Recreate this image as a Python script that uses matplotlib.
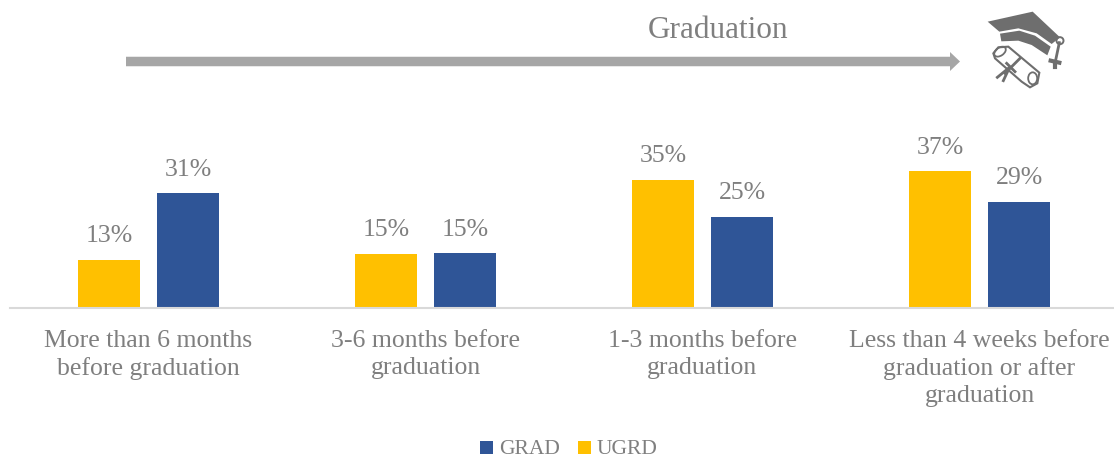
"""Grouped bars of when students started looking, with the graduation arrow on top."""
import matplotlib

matplotlib.use("Agg")
import matplotlib.pyplot as plt
import numpy as np
from matplotlib.patches import Circle, Ellipse, FancyArrow, Polygon, Rectangle

plt.rcParams["font.family"] = ["Liberation Serif", "DejaVu Serif"]

categories = [
    "More than 6 months\nbefore graduation",
    "3-6 months before\ngraduation",
    "1-3 months before\ngraduation",
    "Less than 4 weeks before\ngraduation or after\ngraduation",
]
# bar heights as measured, the printed labels are these rounded
ugrd = [13, 14.6, 34.7, 37]
grad = [31, 14.8, 24.7, 28.7]

W, H = 1114, 457
GREY = "#7f7f7f"
YELLOW = "#ffc000"
BLUE = "#2f5597"
FS = 18.5


def draw_icon(ov):
    # points: (zx, zy) -> (940 + zx / 3, zy / 3)
    def pts(seq):
        return [(940 + x / 3, y / 3) for x, y in seq]

    dark = "#6e6e6e"
    ov.add_patch(Polygon(pts([(143, 65), (278, 35), (360, 112), (335, 132), (290, 100),
                              (235, 85), (178, 95)]), fc=dark, ec="none"))
    ov.add_patch(Polygon(pts([(180, 101), (238, 92), (285, 107), (332, 140), (322, 166),
                              (275, 135), (235, 122), (184, 124)]), fc=dark, ec="none"))
    # tassel
    ov.plot(*zip(*pts([(358, 128), (345, 190)])), color=dark, lw=2)
    ov.plot(*zip(*pts([(332, 182), (358, 188)])), color=dark, lw=3)
    ov.plot(*zip(*pts([(345, 190), (345, 200)])), color=dark, lw=3)
    ov.add_patch(Circle(pts([(360, 122)])[0], 3.5, fc="none", ec=dark, lw=1.4))
    # scroll
    ov.add_patch(Polygon(pts([(160, 160), (175, 142), (205, 140), (298, 218), (292, 250),
                              (270, 262), (245, 245), (165, 175)]),
                         fc="white", ec=dark, lw=1.5))
    ov.add_patch(Ellipse(pts([(180, 155)])[0], 13, 8, angle=-35, fc="none", ec=dark, lw=1.3))
    ov.add_patch(Ellipse(pts([(278, 235)])[0], 9, 12, fc="none", ec=dark, lw=1.3))
    for seg in ([(240, 175), (195, 220)], [(205, 205), (172, 232)], [(205, 210), (190, 242)],
                [(200, 190), (225, 215)]):
        ov.plot(*zip(*pts(seg)), color=dark, lw=2)


def main():
    fig = plt.figure(figsize=(W / 100, H / 100), dpi=100)

    # axes spans x 10-1118 px so each category is 277 px wide; baseline at y=308
    ax = fig.add_axes([10 / W, (H - 308) / H, 1108 / W, 3.7 * 50 / H])
    x = np.arange(len(categories))
    bw, off = 0.2256, 0.1426
    b_u = ax.bar(x - off, ugrd, bw, color=YELLOW)
    b_g = ax.bar(x + off, grad, bw, color=BLUE)
    for bars in (b_u, b_g):
        ax.bar_label(bars, labels=[f"{round(b.get_height())}%" for b in bars], padding=9,
                     color=GREY, fontsize=FS)
    ax.set_xlim(-0.5, len(categories) - 0.5)
    ax.set_ylim(0, 50)
    ax.set_yticks([])
    ax.set_xticks(x)
    ax.set_xticklabels(categories, color=GREY, fontsize=FS, linespacing=1.28)
    ax.tick_params(axis="x", length=0, pad=16)
    for side in ("top", "left", "right"):
        ax.spines[side].set_visible(False)
    ax.spines["bottom"].set_color("#d9d9d9")
    ax.spines["bottom"].set_linewidth(1.5)
    ax.patch.set_alpha(0)

    # overlay in pixel coordinates for arrow, icon and legend
    ov = fig.add_axes([0, 0, 1, 1], zorder=5)
    ov.set_xlim(0, W)
    ov.set_ylim(H, 0)
    ov.axis("off")
    ov.add_patch(FancyArrow(126, 61.5, 834, 0, width=9.5, head_width=19, head_length=10,
                            length_includes_head=True, fc="#a6a6a6", ec="none"))
    ov.text(718, 31, "Graduation", color=GREY, fontsize=22.5, ha="center", va="center")
    draw_icon(ov)

    ov.add_patch(Rectangle((480, 441), 13, 13, fc=BLUE, ec="none"))
    ov.text(499, 449, "GRAD", color=GREY, fontsize=15.5, va="center")
    ov.add_patch(Rectangle((578, 441), 13, 13, fc=YELLOW, ec="none"))
    ov.text(597, 449, "UGRD", color=GREY, fontsize=15.5, va="center")

    fig.savefig("out.png", dpi=100)


if __name__ == "__main__":
    main()
